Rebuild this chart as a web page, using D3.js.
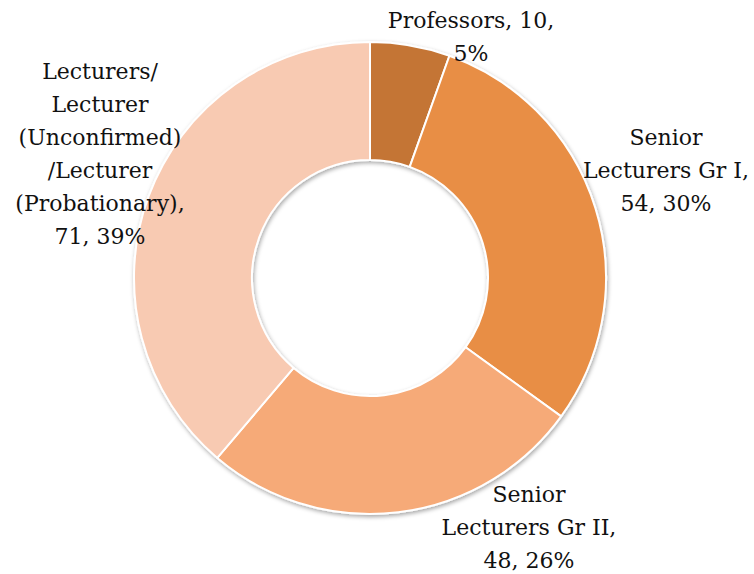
<!DOCTYPE html>
<html>
<head>
<meta charset="utf-8">
<script src="https://d3js.org/d3.v7.min.js"></script>
<style>
html,body{margin:0;padding:0;background:#fff;}
svg{display:block;}
</style>
</head>
<body>
<script>
const categories = ["Professors", "Senior Lecturers Gr I", "Senior Lecturers Gr II", "Lecturers/Lecturer (Unconfirmed)/Lecturer (Probationary)"];
const values = [10, 54, 48, 71];
const percentLabels = ["5%", "30%", "26%", "39%"];
const labelLines = [
  ["Professors, 10,", "5%"],
  ["Senior", "Lecturers Gr I,", "54, 30%"],
  ["Senior", "Lecturers Gr II,", "48, 26%"],
  ["Lecturers/", "Lecturer", "(Unconfirmed)", "/Lecturer", "(Probationary),", "71, 39%"]
];
const colors = ["#C47535", "#E88E45", "#F6AA78", "#F8CAB2"];

const W = 754, H = 574;
const cx = 370, cy = 278, R = 236, r = 118;

const svg = d3.select("body").append("svg").attr("width", W).attr("height", H);
const defs = svg.append("defs");
const f = defs.append("filter").attr("id", "sh").attr("x", "-10%").attr("y", "-10%").attr("width", "120%").attr("height", "120%");
f.append("feDropShadow").attr("dx", 1).attr("dy", 2).attr("stdDeviation", 2).attr("flood-color", "#000").attr("flood-opacity", 0.35);

const pie = d3.pie().sort(null).value(d => d)(values);
const arc = d3.arc().innerRadius(r).outerRadius(R);

const g = svg.append("g").attr("transform", `translate(${cx},${cy})`);
g.append("g").attr("filter", "url(#sh)")
  .selectAll("path").data(pie).join("path")
  .attr("d", arc)
  .attr("fill", (d, i) => colors[i])
  .attr("stroke", "#fff")
  .attr("stroke-width", 2)
  .attr("stroke-linejoin", "round");

// label anchor positions (center x, first baseline y)
const labelPos = [[471, 28], [666, 145], [529, 502], [100, 79]];
const lh = 33;
labelLines.forEach((lines, i) => {
  const t = svg.append("text")
    .attr("font-family", "'DejaVu Serif', serif")
    .attr("font-size", 22)
    .attr("fill", "#111")
    .attr("text-anchor", "middle");
  lines.forEach((ln, j) => {
    t.append("tspan").attr("x", labelPos[i][0]).attr("y", labelPos[i][1] + j * lh).text(ln);
  });
});
</script>
</body>
</html>
